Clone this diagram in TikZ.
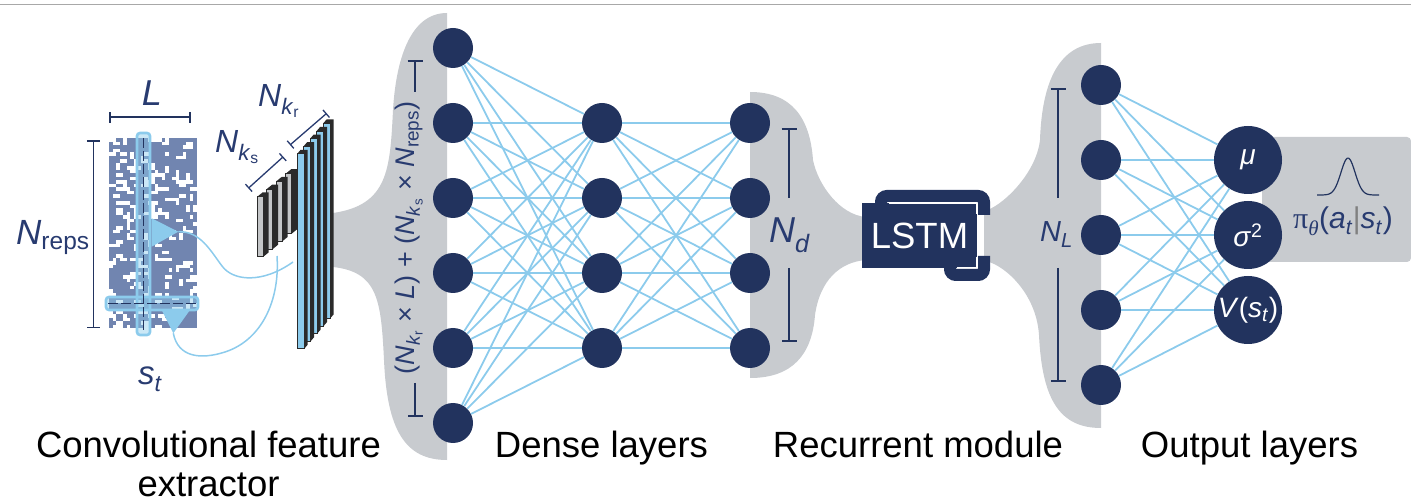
\documentclass[tikz,border=0pt]{standalone}
\usepackage{fontspec}
\setmainfont{Liberation Sans}
\newfontfamily\serifgreek{Liberation Serif}
\usetikzlibrary{arrows.meta,positioning,calc}
\definecolor{navy}{HTML}{22335E}
\definecolor{inkblue}{HTML}{283B70}
\definecolor{linkblue}{HTML}{8CCBEC}
\definecolor{blobgray}{HTML}{C8CBCF}
\definecolor{gridblue}{HTML}{7185B0}
\definecolor{slabdark}{HTML}{2A2A2A}
\definecolor{slabgray}{HTML}{C4C6C8}
\definecolor{rulegray}{HTML}{A8A8A8}
\newcommand{\fsize}[1]{\fontsize{#1}{#1}\selectfont}
\tikzset{
  neuron/.style={circle, fill=navy, minimum size=40pt, inner sep=0pt},
  outneuron/.style={circle, fill=navy, minimum size=68pt, inner sep=0pt, text=white, font=\fsize{28}},
  link/.style={draw=linkblue, line width=1.8pt},
  feed/.style={draw=linkblue, line width=1.5pt},
  blob/.style={fill=blobgray},
  caption/.style={font=\fontsize{36.5}{39}\selectfont, inner sep=0pt, anchor=base},
  dimlabel/.style={text=inkblue, inner sep=0pt},
  dimbar/.style={draw=navy, line width=1.6pt, {Bar[width=13pt]}-{Bar[width=13pt]}},
  dimend/.style={draw=navy, line width=1.6pt, -{Bar[width=15pt]}},
  skewbar/.style={draw=inkblue, line width=1.3pt, {Bar[width=10pt]}-{Bar[width=10pt]}},
  hilite/.style={draw=linkblue, line width=2.6pt, fill=linkblue, fill opacity=0.45, rounded corners=3pt},
  scanline/.style={draw=navy, line width=1.8pt, dash pattern=on 10pt off 3pt},
  lstmbox/.style={fill=navy, text=white, font=\fsize{36.5}, minimum width=115pt, minimum height=65pt, inner sep=0pt}
}
\begin{document}
\begin{tikzpicture}[x=1pt, y=-1pt]
  \useasboundingbox (0,0) rectangle (1411,502);
  \draw[rulegray, line width=1.8pt] (0,4.5) -- (1411,4.5);

  % gray backdrops behind the layers
  \fill[blob] (447,13) .. controls (410,13) and (396,60) .. (393,110)
    .. controls (390,170) and (388,205) .. (333,213) -- (318,214) -- (318,266) -- (333,267)
    .. controls (378,272) and (381,300) .. (384,360)
    .. controls (387,430) and (405,460) .. (447,460) -- cycle;
  \fill[blob] (750,92) .. controls (792,92) and (810,118) .. (813,160)
    .. controls (818,185) and (840,215) .. (866,217) -- (866,260)
    .. controls (840,262) and (820,280) .. (815,315)
    .. controls (812,355) and (792,378) .. (750,378) -- cycle;
  \fill[blob] (1101,43) .. controls (1060,43) and (1042,80) .. (1040,140)
    .. controls (1036,175) and (1000,208) .. (984,211) -- (984,261)
    .. controls (1000,262) and (1036,290) .. (1039,335)
    .. controls (1042,400) and (1060,428) .. (1101,428) -- cycle;
  \fill[blob, rounded corners=4pt] (1262,137) rectangle (1411,262);

  % input state s_t
  \fill[gridblue] (109,138) rectangle (197,328);
  \begin{scope}
    \clip (109,138) rectangle (197,328);
    \pgfmathsetseed{23}
    \foreach \i in {0,...,24}{
      \foreach \j in {0,...,53}{
        \pgfmathsetmacro\cellval{rnd}
        \ifdim\cellval pt<0.07pt
          \fill[white] ({109+3.52*\i},{138+3.52*\j}) rectangle ++(7.04,3.52);
        \else\ifdim\cellval pt<0.12pt
          \fill[white] ({109+3.52*\i},{138+3.52*\j}) rectangle ++(3.52,7.04);
        \else\ifdim\cellval pt<0.16pt
          \fill[white] ({109+3.52*\i},{138+3.52*\j}) rectangle ++(3.52,3.52);
        \fi\fi\fi
      }
    }
  \end{scope}
  \draw[hilite] (137,133) rectangle (150,335);
  \draw[hilite] (106,297) rectangle (198,310);
  \draw[scanline] (143.5,138) -- (143.5,331);
  \draw[scanline] (108,303.5) -- (197,303.5);
  \fill[linkblue] (151.7,218.3) -- (151.7,246.7) -- (178.3,231.7) -- cycle;
  \fill[linkblue] (161.7,310) -- (190,310) -- (173.3,333.3) -- cycle;
  \coordinate (rowtip) at (178.3,231.7);
  \coordinate (coltip) at (173.3,333.3);
  \coordinate (bigin) at (293,262);
  \coordinate (smallin) at (277,256);
  \draw[feed] (rowtip) .. controls (200,231) and (210,250) .. (222,266)
    .. controls (233,281) and (262,284) .. (bigin);
  \draw[feed] (coltip) .. controls (178,357) and (200,360) .. (225,352)
    .. controls (262,340) and (280,300) .. (smallin);

  % kernel stacks, back to front
  \foreach \i in {3,2,1,0}{
    \pgfmathsetmacro\sx{257+9.6*\i}
    \pgfmathsetmacro\sy{197-7.8*\i}
    \fill[slabdark] (\sx,\sy) -- ++(5.5,-4.5) -- ++(6,0) -- ++(0,60) -- ++(-5.5,4.5) -- ++(-6,0) -- cycle;
    \filldraw[fill=slabgray, draw=slabdark, line width=1pt] (\sx,\sy) rectangle ++(6,60);
  }
  \foreach \i in {4,3,2,1,0}{
    \pgfmathsetmacro\sx{297+6.5*\i}
    \pgfmathsetmacro\sy{154-7.6*\i}
    \fill[slabdark] (\sx,\sy) -- ++(3.6,-4.2) -- ++(7,0) -- ++(0,195) -- ++(-3.6,4.2) -- ++(-7,0) -- cycle;
    \filldraw[fill=linkblue, draw=slabdark, line width=1pt] (\sx,\sy) rectangle ++(7,195);
  }

  % size annotations
  \draw[dimbar] (93.3,140) -- (93.3,328.3);
  \draw[dimbar, {Bar[width=11pt]}-{Bar[width=11pt]}] (109.3,117.3) -- (191,117.3);
  \draw[skewbar] (248.3,188.3) -- (283.3,156.7);
  \draw[skewbar] (290,145) -- (326.7,113.3);
  \node[dimlabel, anchor=base west, font=\fsize{35}] (nreps) at (16,245) {\textit{N}\textsubscript{reps}};
  \node[dimlabel, anchor=base, font=\fsize{36}] (lenlabel) at (152,106) {\textit{L}};
  \node[dimlabel, anchor=base west, font=\fsize{33}] (stlabel) at (138,385) {\textit{s}\textsubscript{\textit{t}}};
  \node[dimlabel, anchor=base west, font=\fsize{32}] (nks) at (215,153) {\textit{N}\textsubscript{\textit{k}\textsubscript{s}}};
  \node[dimlabel, anchor=base west, font=\fsize{32}] (nkr) at (258,107) {\textit{N}\textsubscript{\textit{k}\textsubscript{r}}};

  \draw[dimend] (415,92) -- (415,60);
  \draw[dimend] (415,383) -- (415,417);
  \node[dimlabel, rotate=90, font=\fsize{27}] (insize) at (409,238)
    {(\textit{N}\textsubscript{\textit{k}\textsubscript{r}} × \textit{L}) + (\textit{N}\textsubscript{\textit{k}\textsubscript{s}} × \textit{N}\textsubscript{reps})};

  % layers
  \foreach \i in {1,...,6}
    \node[neuron] (a\i) at (453,{48+75*(\i-1)}) {};
  \foreach \i in {1,...,4}{
    \node[neuron] (b\i) at (602,{123+75*(\i-1)}) {};
    \node[neuron] (c\i) at (750,{123+75*(\i-1)}) {};
  }
  \foreach \i in {1,...,5}
    \node[neuron] (r\i) at (1101,{85+75*(\i-1)}) {};
  \node[outneuron] (mu) at (1248,160) {\textit{μ}};
  \node[outneuron] (var) at (1248,235) {\textit{σ}\textsuperscript{2}};
  \node[outneuron] (val) at (1248,310) {\textit{V}(\textit{s}\textsubscript{\textit{t}})};

  \foreach \i in {1,...,6}
    \foreach \j in {1,...,4}
      \draw[link] (a\i) -- (b\j);
  \foreach \i in {1,...,4}
    \foreach \j in {1,...,4}
      \draw[link] (b\i) -- (c\j);
  \foreach \i in {1,...,5}
    \foreach \tgt in {mu,var,val}
      \draw[link] (r\i) -- (\tgt);

  \draw[dimend] (789,198) -- (789,128);
  \draw[dimend] (789,268) -- (789,342);
  \node[dimlabel, anchor=base west, font=\fsize{36}] (ndlabel) at (769,243) {\textit{N}\textsubscript{\textit{d}}};
  \draw[dimend] (1058,198) -- (1058,88);
  \draw[dimend] (1058,268) -- (1058,382);
  \node[dimlabel, anchor=base west, font=\fsize{29}] (nllabel) at (1040,242) {\textit{N}\textsubscript{\textit{L}}};

  % recurrent module
  \draw[navy, line width=12pt, rounded corners=6pt] (881,208) -- (881,196) -- (984,196) -- (984,215);
  \draw[navy, line width=12pt, rounded corners=6pt] (984,256) -- (984,275) -- (950,275) -- (950,263);
  \node[lstmbox] (lstm) at (919.5,235.5) {LSTM};
  \draw[white, line width=1.5pt] (889,203.5) -- (976.5,203.5) -- (976.5,214);
  \draw[white, line width=1.5pt] (976.5,257) -- (976.5,267.5) -- (957,267.5);

  % policy head
  \draw[navy, line width=1.2pt, domain=-31:31, samples=50, smooth]
    plot ({1348+\x},{195-37*exp(-(\x/10)^2)});
  \node[dimlabel, anchor=base west, font=\fsize{30}] (policy) at (1293,229)
    {{\serifgreek π}\textsubscript{\serifgreek\itshape θ}(\textit{a}\textsubscript{\textit{t}}{\color{gray}|}\textit{s}\textsubscript{\textit{t}})};

  % captions
  \node[caption, anchor=north, align=center] (convcap) at (208.5,430.4) {Convolutional feature\\extractor};
  \node[caption] (densecap) at (601.5,457) {Dense layers};
  \node[caption] (reccap) at (918,457) {Recurrent module};
  \node[caption] (outcap) at (1249.5,457) {Output layers};
\end{tikzpicture}
\end{document}
